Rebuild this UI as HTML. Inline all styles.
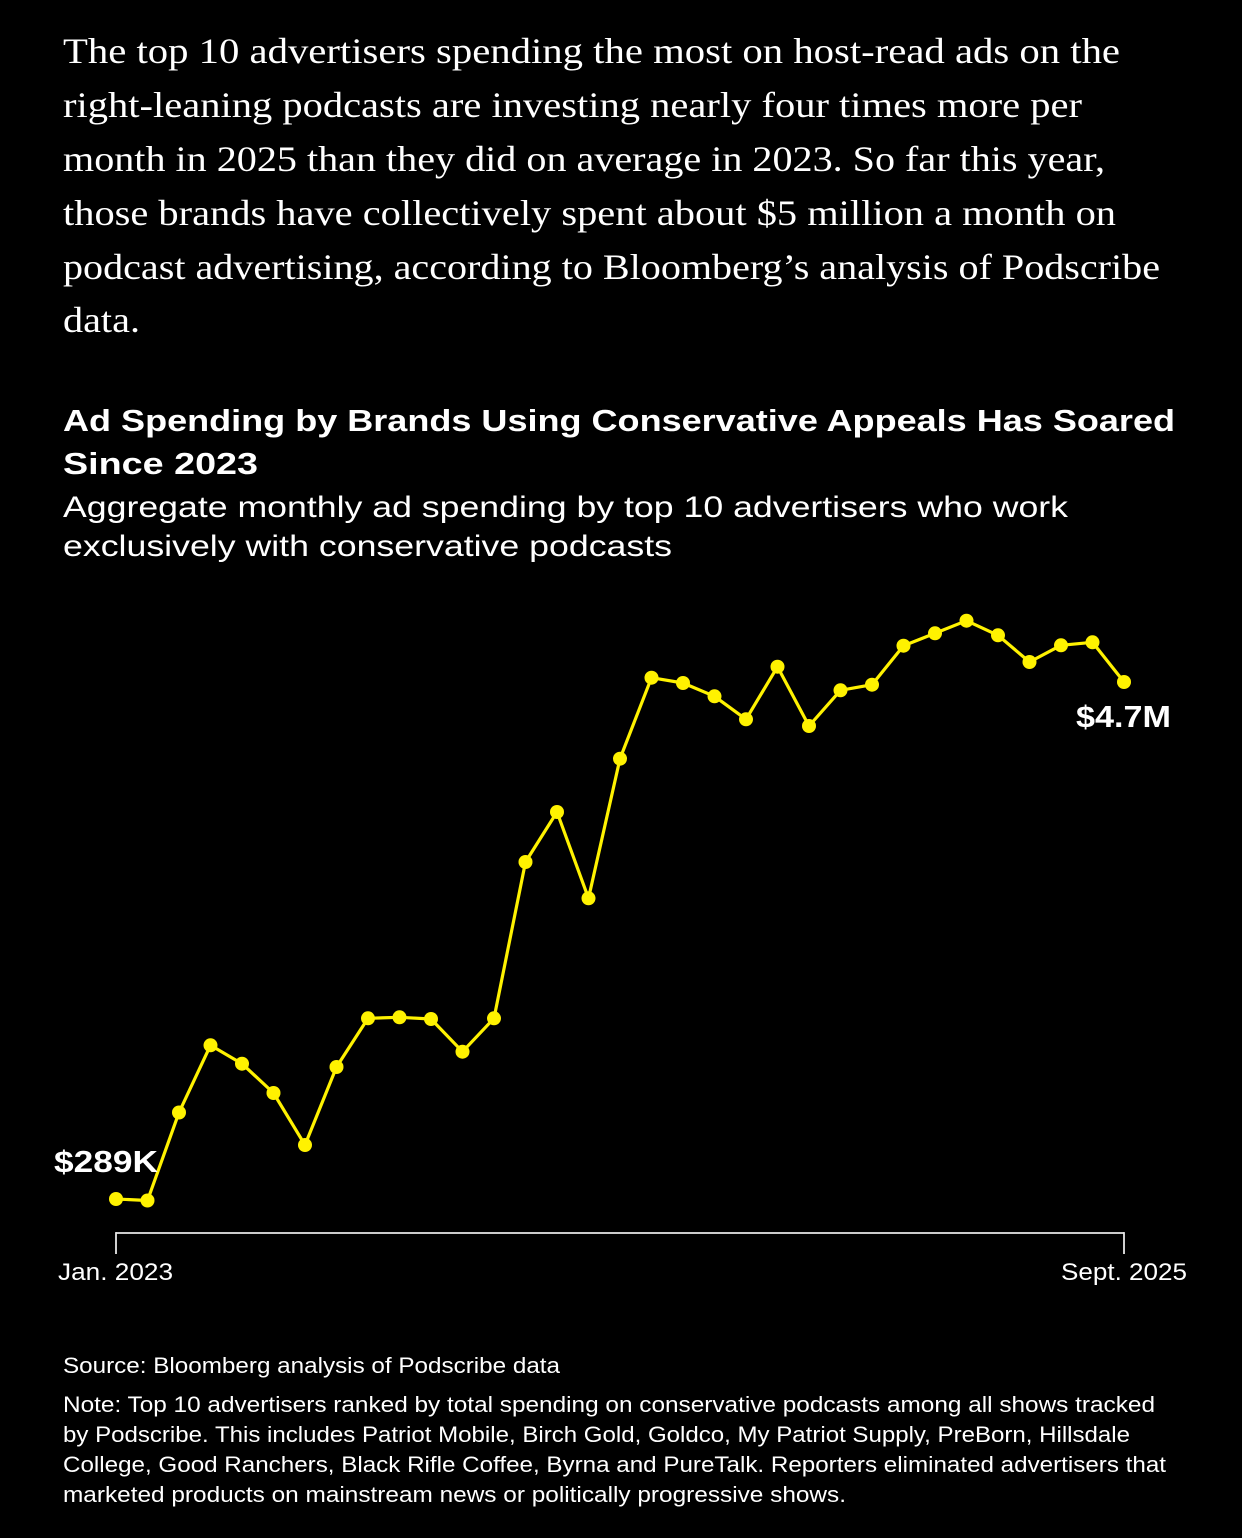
<!DOCTYPE html>
<html>
<head>
<meta charset="utf-8">
<style>
  html, body { margin: 0; padding: 0; background: #000; }
  body { width: 1242px; height: 1538px; overflow: hidden; }
  svg { display: block; }
  .serif { font-family: "Liberation Serif", serif; fill: #fff; }
  .sans { font-family: "Liberation Sans", sans-serif; fill: #fff; }
  .bold { font-weight: bold; }
</style>
</head>
<body>
<svg width="1242" height="1538" viewBox="0 0 1242 1538" xmlns="http://www.w3.org/2000/svg">
  <rect x="0" y="0" width="1242" height="1538" fill="#000"/>

  <!-- Intro paragraph -->
  <g class="serif" font-size="36">
    <text x="63" y="63" textLength="1057" lengthAdjust="spacingAndGlyphs">The top 10 advertisers spending the most on host-read ads on the</text>
    <text x="63" y="117" textLength="1019" lengthAdjust="spacingAndGlyphs">right-leaning podcasts are investing nearly four times more per</text>
    <text x="63" y="171" textLength="1042" lengthAdjust="spacingAndGlyphs">month in 2025 than they did on average in 2023. So far this year,</text>
    <text x="63" y="225" textLength="1053" lengthAdjust="spacingAndGlyphs">those brands have collectively spent about $5 million a month on</text>
    <text x="63" y="279" textLength="1097" lengthAdjust="spacingAndGlyphs">podcast advertising, according to Bloomberg’s analysis of Podscribe</text>
    <text x="63" y="332" textLength="77" lengthAdjust="spacingAndGlyphs">data.</text>
  </g>

  <!-- Title -->
  <g class="sans bold" font-size="31">
    <text x="63" y="431" textLength="1112" lengthAdjust="spacingAndGlyphs">Ad Spending by Brands Using Conservative Appeals Has Soared</text>
    <text x="63" y="474" textLength="195" lengthAdjust="spacingAndGlyphs">Since 2023</text>
  </g>

  <!-- Subtitle -->
  <g class="sans" font-size="30">
    <text x="63" y="517" textLength="1005" lengthAdjust="spacingAndGlyphs">Aggregate monthly ad spending by top 10 advertisers who work</text>
    <text x="63" y="556" textLength="609" lengthAdjust="spacingAndGlyphs">exclusively with conservative podcasts</text>
  </g>

  <!-- Axis -->
  <g stroke="#e8e8e8" stroke-width="1.8" fill="none">
    <line x1="116" y1="1233" x2="1124" y2="1233"/>
    <line x1="116" y1="1232.1" x2="116" y2="1254"/>
    <line x1="1124" y1="1232.1" x2="1124" y2="1254"/>
  </g>
  <g class="sans" font-size="24">
    <text x="58" y="1280" textLength="115" lengthAdjust="spacingAndGlyphs">Jan. 2023</text>
    <text x="1061" y="1280" textLength="126" lengthAdjust="spacingAndGlyphs">Sept. 2025</text>
  </g>

  <!-- Series -->
  <polyline fill="none" stroke="#fff200" stroke-width="3.2" stroke-linejoin="round" stroke-linecap="round"
    points="116,1199 147.5,1200.5 179,1112.5 210.5,1045.3 242,1063.7 273.5,1093 305,1145 336.5,1067 368,1018.3 399.5,1017.3 431,1019 462.5,1051.7 494,1018.3 525.5,862 557,812 588.5,898.3 620,758.7 651.5,677.7 683,683 714.5,696.3 746,719.3 777.5,666.7 809,726 840.5,690.3 872,684.7 903.5,645.7 935,633.3 966.5,620.7 998,635.3 1029.5,662 1061,645.3 1092.5,642.3 1124,682"/>
  <g fill="#fff200">
    <circle cx="116" cy="1199" r="7"/>
    <circle cx="147.5" cy="1200.5" r="7"/>
    <circle cx="179" cy="1112.5" r="7"/>
    <circle cx="210.5" cy="1045.3" r="7"/>
    <circle cx="242" cy="1063.7" r="7"/>
    <circle cx="273.5" cy="1093" r="7"/>
    <circle cx="305" cy="1145" r="7"/>
    <circle cx="336.5" cy="1067" r="7"/>
    <circle cx="368" cy="1018.3" r="7"/>
    <circle cx="399.5" cy="1017.3" r="7"/>
    <circle cx="431" cy="1019" r="7"/>
    <circle cx="462.5" cy="1051.7" r="7"/>
    <circle cx="494" cy="1018.3" r="7"/>
    <circle cx="525.5" cy="862" r="7"/>
    <circle cx="557" cy="812" r="7"/>
    <circle cx="588.5" cy="898.3" r="7"/>
    <circle cx="620" cy="758.7" r="7"/>
    <circle cx="651.5" cy="677.7" r="7"/>
    <circle cx="683" cy="683" r="7"/>
    <circle cx="714.5" cy="696.3" r="7"/>
    <circle cx="746" cy="719.3" r="7"/>
    <circle cx="777.5" cy="666.7" r="7"/>
    <circle cx="809" cy="726" r="7"/>
    <circle cx="840.5" cy="690.3" r="7"/>
    <circle cx="872" cy="684.7" r="7"/>
    <circle cx="903.5" cy="645.7" r="7"/>
    <circle cx="935" cy="633.3" r="7"/>
    <circle cx="966.5" cy="620.7" r="7"/>
    <circle cx="998" cy="635.3" r="7"/>
    <circle cx="1029.5" cy="662" r="7"/>
    <circle cx="1061" cy="645.3" r="7"/>
    <circle cx="1092.5" cy="642.3" r="7"/>
    <circle cx="1124" cy="682" r="7"/>
  </g>

  <!-- Value labels -->
  <g class="sans bold" font-size="31">
    <text x="54" y="1172" textLength="104" lengthAdjust="spacingAndGlyphs">$289K</text>
    <text x="1076" y="727" textLength="95" lengthAdjust="spacingAndGlyphs">$4.7M</text>
  </g>

  <!-- Footnotes -->
  <g class="sans" font-size="22">
    <text x="63" y="1373" textLength="497" lengthAdjust="spacingAndGlyphs">Source: Bloomberg analysis of Podscribe data</text>
    <text x="63" y="1412" textLength="1092" lengthAdjust="spacingAndGlyphs">Note: Top 10 advertisers ranked by total spending on conservative podcasts among all shows tracked</text>
    <text x="63" y="1442" textLength="1067" lengthAdjust="spacingAndGlyphs">by Podscribe. This includes Patriot Mobile, Birch Gold, Goldco, My Patriot Supply, PreBorn, Hillsdale</text>
    <text x="63" y="1472" textLength="1103" lengthAdjust="spacingAndGlyphs">College, Good Ranchers, Black Rifle Coffee, Byrna and PureTalk. Reporters eliminated advertisers that</text>
    <text x="63" y="1502" textLength="783" lengthAdjust="spacingAndGlyphs">marketed products on mainstream news or politically progressive shows.</text>
  </g>
</svg>
</body>
</html>
